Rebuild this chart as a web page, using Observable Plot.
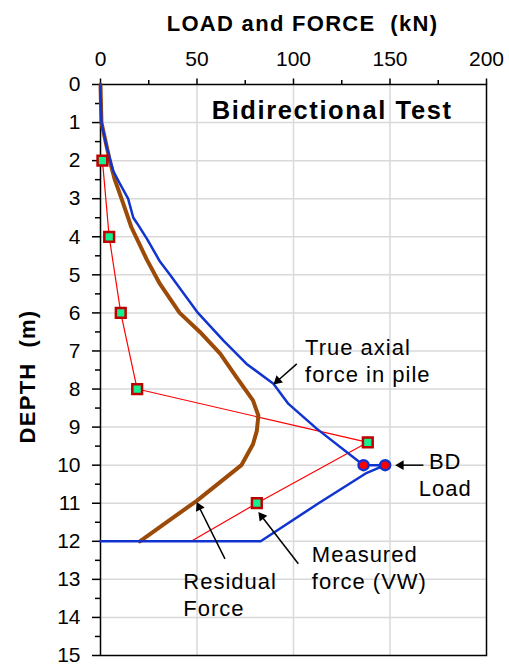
<!DOCTYPE html>
<html><head><meta charset="utf-8">
<script src="https://cdn.jsdelivr.net/npm/d3@7"></script>
<script src="https://cdn.jsdelivr.net/npm/@observablehq/plot@0.6"></script>
<style>
body{margin:0;background:#fff;}
svg{font-family:"Liberation Sans",Arial,sans-serif;}
g[font-size="22"] text{letter-spacing:1px;}
g[font-size="22"][font-weight="bold"] text{letter-spacing:1.3px;}
g[font-size="25.5"] text{letter-spacing:1.6px;}
</style>
</head><body><div id="chart"></div>
<script>
// ---- data ----
const xTicks = [0, 50, 100, 150, 200];
const xMinor = [25, 75, 125, 175];
const yTicks = [0,1,2,3,4,5,6,7,8,9,10,11,12,13,14,15];
const yMinor = [0.5,1.5,2.5,3.5,4.5,5.5,6.5,7.5,8.5,9.5,10.5,11.5,12.5,13.5,14.5];
const xGrid = [50, 100, 150];
const yGrid = [1,2,3,4,5,6,7,8,9,10,11,12,13,14];

const residualLoad  = [0, 0.5, 4.8, 7.4, 10.9, 16, 24, 30.8, 41, 51.5, 62, 70.6, 79, 81.8, 81, 79, 73, 50, 20.4];
const residualDepth = [0, 1, 2, 2.5, 3, 3.75, 4.6, 5.24, 6, 6.5, 7.07, 7.7, 8.3, 8.7, 9.1, 9.45, 10, 10.93, 12];

const trueLoad  = [0, 0, 0.5, 3, 6.5, 10, 14.3, 17, 19, 24, 30.8, 36, 50.5, 63.6, 75.7, 89.6, 97.4, 112, 136.3, 147.5, 138, 113, 83, 0];
const trueDepth = [0, 0.3, 1, 1.6, 2.26, 2.6, 3, 3.5, 3.65, 4.05, 4.65, 5, 6, 6.72, 7.34, 7.86, 8.39, 9.04, 10, 10, 10.2, 11, 12, 12];

const measuredLoad  = [1, 4.5, 10.5, 19, 138.5, 81, 47];
const measuredDepth = [2, 4, 6, 8, 9.4, 11, 12];
const gaugeCount = 6; // first six points carry gauge markers

const bdLoad  = [136.3, 147.5];
const bdDepth = [10, 10];

const labelText = ["True axial\nforce in pile", "BD\nLoad", "Measured\nforce (VW)", "Residual\nForce"];
const labelX = [106, 178.6, 109.5, 42.9];
const labelY = [7.82, 10.8, 13.25, 13.95];
const labelAnchor = ["start", "middle", "start", "start"];

const arrowX1 = [101.7, 167.3, 102.5, 64.5];
const arrowY1 = [7.34, 10, 12.59, 12.46];
const arrowX2 = [89.6, 152.7, 81.8, 49.8];
const arrowY2 = [7.88, 10, 11.23, 10.97];

const chartTitle = "Bidirectional Test";
const titleX = 57.6, titleY = 0.9;
const xTitle = "LOAD and FORCE  (kN)";
const yTitle = "DEPTH  (m)";

// ---- build tables ----
const residual = residualLoad.map((v,i) => ({x:v, y:residualDepth[i]}));
const trueF = trueLoad.map((v,i) => ({x:v, y:trueDepth[i]}));
const measured = measuredLoad.map((v,i) => ({x:v, y:measuredDepth[i]}));
const bd = bdLoad.map((v,i) => ({x:v, y:bdDepth[i]}));
const labels = labelText.map((t,i) => ({t, x:labelX[i], y:labelY[i], a:labelAnchor[i]}));
const arrows = arrowX1.map((v,i) => ({x1:v, y1:arrowY1[i], x2:arrowX2[i], y2:arrowY2[i]}));

const base = {
  width: 509, height: 665,
  marginTop: 84, marginLeft: 100, marginRight: 23, marginBottom: 10,
  x: {domain: [0, 200]},
  y: {domain: [0, 15], reverse: true},
  style: {fontFamily: "Liberation Sans, Arial, sans-serif", color: "black", background: "white"}
};

// probe scales to orient filled arrowheads
const probe = Plot.plot({...base, marks: []});
const sx = probe.scale("x"), sy = probe.scale("y");
const headR = 3.6, halfH = 0.7776 * headR;
const heads = arrows.map(a => {
  const p1x = sx.apply(a.x1), p1y = sy.apply(a.y1), p2x = sx.apply(a.x2), p2y = sy.apply(a.y2);
  const L = Math.hypot(p2x - p1x, p2y - p1y), ux = (p2x - p1x)/L, uy = (p2y - p1y)/L;
  const cx = p2x - ux * 2 * halfH, cy = p2y - uy * 2 * halfH;
  return {x1: a.x1, y1: a.y1, x: sx.invert(cx), y: sy.invert(cy), rot: Math.atan2(uy, ux) * 180 / Math.PI + 90};
});

const textOpts = {x: "x", y: "y", text: "t", lineAnchor: "bottom", fontSize: 22, lineHeight: 1.22, fill: "black"};
const grey = "#d9d9d9";
const chart = Plot.plot({
  ...base,
  marks: [
    Plot.gridX(xGrid, {stroke: grey, strokeOpacity: 1, strokeWidth: 1.5}),
    Plot.gridY(yGrid, {stroke: grey, strokeOpacity: 1, strokeWidth: 1.5}),
    Plot.frame({stroke: "black", strokeWidth: 1.5}),
    Plot.axisX(xTicks, {anchor: "top", tickSize: 6.5, tickPadding: 12, fontSize: 21, label: null, strokeWidth: 1.5}),
    Plot.axisX(xMinor, {anchor: "top", tickSize: 5, tickFormat: () => "", label: null, strokeWidth: 1.5}),
    Plot.axisY(yTicks, {anchor: "left", tickSize: 8, tickPadding: 12, fontSize: 21, label: null, strokeWidth: 1.5}),
    Plot.axisY(yMinor, {anchor: "left", tickSize: 5, tickFormat: () => "", label: null, strokeWidth: 1.5}),
    Plot.line(measured, {x: "x", y: "y", stroke: "#ff0000", strokeWidth: 1.2}),
    Plot.line(residual, {x: "x", y: "y", stroke: "#9c4a08", strokeWidth: 4, strokeLinejoin: "round"}),
    Plot.line(trueF, {x: "x", y: "y", stroke: "#1034d0", strokeWidth: 2.5, strokeLinejoin: "round"}),
    Plot.dot(measured.slice(0, gaugeCount), {x: "x", y: "y", symbol: "square", r: 5.5, fill: "#14f090", stroke: "#c00000", strokeWidth: 2.5}),
    Plot.dot(bd, {x: "x", y: "y", r: 5, fill: "#ff0000", stroke: "#1034d0", strokeWidth: 2.5}),
    Plot.link(heads, {x1: "x1", y1: "y1", x2: "x", y2: "y", stroke: "black", strokeWidth: 1.5}),
    Plot.dot(heads, {x: "x", y: "y", symbol: "triangle", r: headR, rotate: "rot", fill: "black", stroke: "none"}),
    Plot.text(labels.filter(d => d.a === "start"), {...textOpts, textAnchor: "start"}),
    Plot.text(labels.filter(d => d.a === "middle"), {...textOpts, textAnchor: "middle"}),
    Plot.text([chartTitle], {x: titleX, y: titleY, textAnchor: "start", lineAnchor: "bottom", fontSize: 25.5, fontWeight: "bold", fill: "black"}),
    Plot.text([xTitle], {frameAnchor: "top", textAnchor: "middle", dx: 9, dy: -54, lineAnchor: "bottom", fontSize: 22, fontWeight: "bold", fill: "black"}),
    Plot.text([yTitle], {frameAnchor: "left", textAnchor: "middle", dx: -66, dy: 6.5, rotate: -90, lineAnchor: "bottom", fontSize: 22, fontWeight: "bold", fill: "black"})
  ]
});
document.getElementById("chart").appendChild(chart);
</script>
</body></html>
